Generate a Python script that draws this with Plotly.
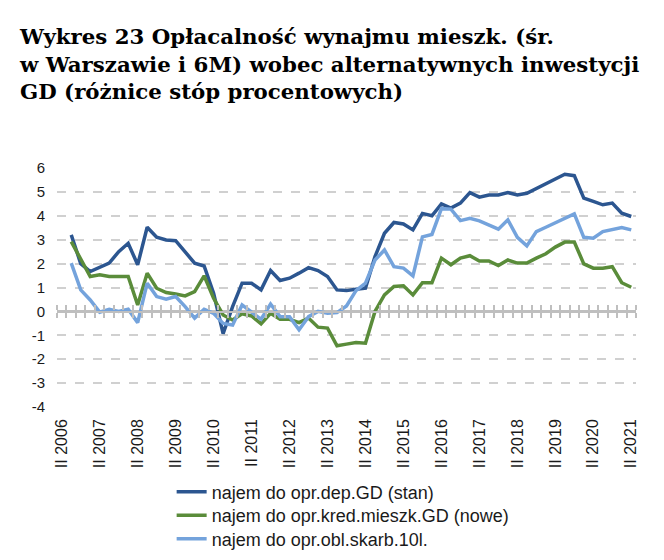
import plotly.graph_objects as go

# ---- categories (quarters II 2006 .. II 2021) ----
roman = ["I", "II", "III", "IV"]
all_q = [f"{q} {y}" for y in range(2006, 2022) for q in roman]
quarters = all_q[all_q.index("II 2006"): all_q.index("II 2021") + 1]
tick_labels = [f"II {y}" for y in range(2006, 2022)]
series_x = quarters[1:]  # data start in III 2006

y_ticks = [-4, -3, -2, -1, 0, 1, 2, 3, 4, 5, 6]
y_tick_labels = ["-4", "-3", "-2", "-1", "0", "1", "2", "3", "4", "5", "6"]

names = ["najem do opr.dep.GD (stan)",
         "najem do opr.kred.mieszk.GD (nowe)",
         "najem do opr.obl.skarb.10l."]

dep = [3.2, 2.0, 1.67, 1.85, 2.02, 2.5, 2.85, 1.95, 3.52, 3.1,
       2.99, 2.96, 2.5, 2.02, 1.9, 0.76, -0.93, 0.2, 1.18, 1.18,
       0.9, 1.71, 1.29, 1.39, 1.6, 1.83, 1.71, 1.46, 0.9, 0.87,
       0.93, 0.97, 2.29, 3.27, 3.72, 3.66, 3.41, 4.1, 4.0, 4.5,
       4.32, 4.53, 4.97, 4.78, 4.87, 4.87, 4.97, 4.87, 4.94, 5.15,
       5.33, 5.53, 5.74, 5.68, 4.74, 4.6, 4.46, 4.53, 4.11, 3.97]

kred = [2.92, 2.15, 1.46, 1.53, 1.46, 1.46, 1.46, 0.27, 1.6, 0.97,
        0.79, 0.73, 0.65, 0.83, 1.49, 0.55, -0.15, -0.36, -0.1, -0.19,
        -0.52, -0.08, -0.33, -0.33, -0.47, -0.28, -0.66, -0.7, -1.44, -1.37,
        -1.3, -1.33, 0.0, 0.69, 1.04, 1.07, 0.69, 1.2, 1.2, 2.23,
        1.95, 2.23, 2.33, 2.11, 2.11, 1.92, 2.15, 2.02, 2.02, 2.23,
        2.41, 2.69, 2.9, 2.9, 1.99, 1.81, 1.81, 1.87, 1.2, 1.01]

obl = [2.02, 0.9, 0.48, -0.03, 0.09, 0.0, 0.09, -0.47, 1.18, 0.62,
       0.51, 0.62, 0.2, -0.28, 0.09, -0.08, -0.5, -0.57, 0.27, -0.05,
       -0.33, 0.31, -0.22, -0.22, -0.77, -0.22, 0.0, -0.08, -0.05, 0.23,
       0.87, 1.18, 2.15, 2.57, 1.87, 1.81, 1.49, 3.12, 3.22, 4.3,
       4.28, 3.8, 3.9, 3.79, 3.62, 3.44, 3.83, 3.1, 2.74, 3.34,
       3.52, 3.72, 3.92, 4.08, 3.1, 3.06, 3.34, 3.41, 3.51, 3.41]

colors = ["#2C5690", "#5A8C3A", "#74A3DC"]
legend_ids = ["legend", "legend2", "legend3"]
legend_text_y = [492, 515.5, 539]  # px from top, centers of legend rows

axis_gray = "#BFBFBF"
n = len(quarters)
zero_frac = 0.4  # fraction of plot height where y = 0 lies (range -4..6)

fig = go.Figure()

# invisible helper traces so the zero-crossing tick axes get drawn
for ax, ay in [("x2", "y2"), ("x3", "y3")]:
    fig.add_trace(go.Scatter(x=series_x, y=dep, xaxis=ax, yaxis=ay, mode="lines",
                             opacity=0, hoverinfo="skip", showlegend=False,
                             line=dict(width=0.1)))

for name, vals, col, lg in zip(names, [dep, kred, obl], colors, legend_ids):
    fig.add_trace(go.Scatter(x=series_x, y=vals, mode="lines", name=name,
                             legend=lg, line=dict(color=col, width=3.5)))

title = ("<b>Wykres 23 Opłacalność wynajmu mieszk. (śr.<br>"
         "w Warszawie i 6M) wobec alternatywnych inwestycji<br>"
         "GD (różnice stóp procentowych)</b>")

cat_common = dict(type="category", categoryorder="array", categoryarray=quarters,
                  range=[-0.5, n - 0.5], domain=[0, 1])

legend_common = dict(x=0.198, xanchor="left", yanchor="middle", yref="container",
                     orientation="v", bgcolor="rgba(0,0,0,0)",
                     font=dict(size=18, color="#1a1a1a"))

tick_axis_common = dict(tickson="boundaries", tickmode="linear", tick0=0, dtick=1,
                        ticks="outside", ticklen=5, tickwidth=1.5, tickcolor=axis_gray,
                        showticklabels=False, showgrid=False, zeroline=False)

fig.update_layout(
    width=664, height=560,
    margin=dict(l=57, r=28, t=168, b=153, autoexpand=False),
    paper_bgcolor="white", plot_bgcolor="rgba(0,0,0,0)",
    font=dict(family="Liberation Sans, Arial, sans-serif", color="#1a1a1a"),
    title=dict(text=title, x=20 / 664, xanchor="left", xref="container",
               y=1 - 44 / 560, yanchor="top", yref="container",
               font=dict(family="DejaVu Serif, serif", size=21.3, color="black")),
    showlegend=True,
    legend=dict(**legend_common, y=1 - legend_text_y[0] / 560),
    legend2=dict(**legend_common, y=1 - legend_text_y[1] / 560),
    legend3=dict(**legend_common, y=1 - legend_text_y[2] / 560),
    xaxis=dict(**cat_common, tickmode="array", tickvals=tick_labels,
               ticktext=tick_labels, tickangle=-90, ticks="", showgrid=False,
               zeroline=False, showline=False, ticklabelstandoff=8,
               tickfont=dict(size=16, color="#1a1a1a")),
    # axis line at y = 0 with downward ticks
    xaxis2=dict(**cat_common, **tick_axis_common, anchor="y2", side="bottom",
                showline=True, linecolor=axis_gray, linewidth=2),
    # upward ticks at y = 0
    xaxis3=dict(**cat_common, **tick_axis_common, anchor="y3", side="top",
                showline=False),
    yaxis2=dict(domain=[zero_frac, 1], range=[0, 1], visible=False, anchor="x2"),
    yaxis3=dict(domain=[0, zero_frac], range=[0, 1], visible=False, anchor="x3"),
    yaxis=dict(range=[-4, 6], tickmode="array", tickvals=y_ticks, ticktext=y_tick_labels,
               showgrid=True, gridcolor="#D0D0D0", griddash="dash", gridwidth=1.5,
               zeroline=True, zerolinecolor=axis_gray, zerolinewidth=2,
               ticks="", showline=False, ticklabelstandoff=11,
               tickfont=dict(size=15, color="#1a1a1a")),
)

fig.write_html("out.html", config={"displayModeBar": False},
               post_script="document.body.style.margin='0';")
